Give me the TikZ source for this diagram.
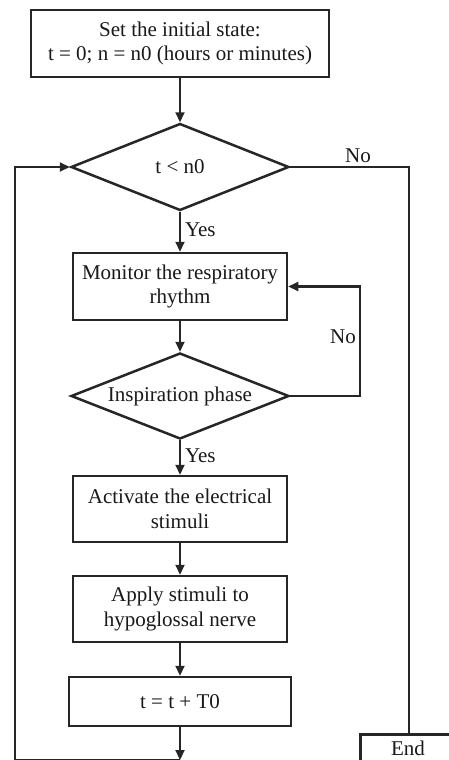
\documentclass[tikz,border=0pt]{standalone}
\usepackage{fontspec}
\setmainfont{Liberation Serif}
\usetikzlibrary{arrows.meta,shapes.geometric}
\begin{document}
\begin{tikzpicture}[x=1pt,y=-1pt,
  every node/.style={font=\fontsize{21}{24.5}\selectfont, text=black!90},
  box/.style={draw=black!85, line width=2.5pt, rectangle, align=center, inner sep=2pt},
  dec/.style={draw=black!85, line width=2.5pt, diamond, inner sep=0pt},
  lbl/.style={inner sep=1pt},
  conn/.style={draw=black!85, line width=2.2pt},
  arr/.style={conn, -{Triangle[length=10pt,width=9pt]}}]
\useasboundingbox[fill=white] (0,0) rectangle (449,760);
\node[box, minimum width=298pt, minimum height=67pt] (top) at (180,43.5) {Set the initial state:\\t = 0; n = n0 (hours or minutes)};
\node[dec, minimum width=218pt, minimum height=87pt] (d1) at (180,167) {};
\node at (d1) {t < n0};
\node[box, minimum width=214pt, minimum height=67pt] (mon) at (180,286.5) {Monitor the respiratory\\rhythm};
\node[dec, minimum width=218pt, minimum height=86pt] (d2) at (180,396) {};
\node at (d2) {Inspiration phase};
\node[box, minimum width=214pt, minimum height=66pt] (act) at (180,509) {Activate the electrical\\stimuli};
\node[box, minimum width=214pt, minimum height=66pt] (app) at (180,609) {Apply stimuli to\\hypoglossal nerve};
\node[box, minimum width=222pt, minimum height=49pt] (t0) at (180,701.5) {t = t + T0};
\node[box, minimum width=100pt, minimum height=58pt, anchor=north west] (end) at (359,733) {};
\node at (408,748) {End};
\coordinate (cb) at (180,760);
\coordinate (cbl) at (15,760);
\coordinate (cr) at (409,167);
\coordinate (cn) at (360,396);
\draw[arr] (top) -- (d1);
\draw[arr] (d1) -- (mon) node[lbl, pos=0.45, anchor=west, xshift=3pt] {Yes};
\draw[arr] (mon) -- (d2);
\draw[arr] (d2) -- (act) node[lbl, pos=0.45, anchor=west, xshift=3pt] {Yes};
\draw[arr] (act) -- (app);
\draw[arr] (app) -- (t0);
\draw[arr] (t0) -- (cb);
\draw[arr] (cb) -- (cbl) |- (d1.west);
\draw[arr] (d2.east) -- (cn) |- (mon.east);
\node[lbl] at (343,337) {No};
\draw[conn] (d1.east) -- (cr) -- (cr |- end.north);
\node[lbl] at (358,156) {No};
\end{tikzpicture}
\end{document}
